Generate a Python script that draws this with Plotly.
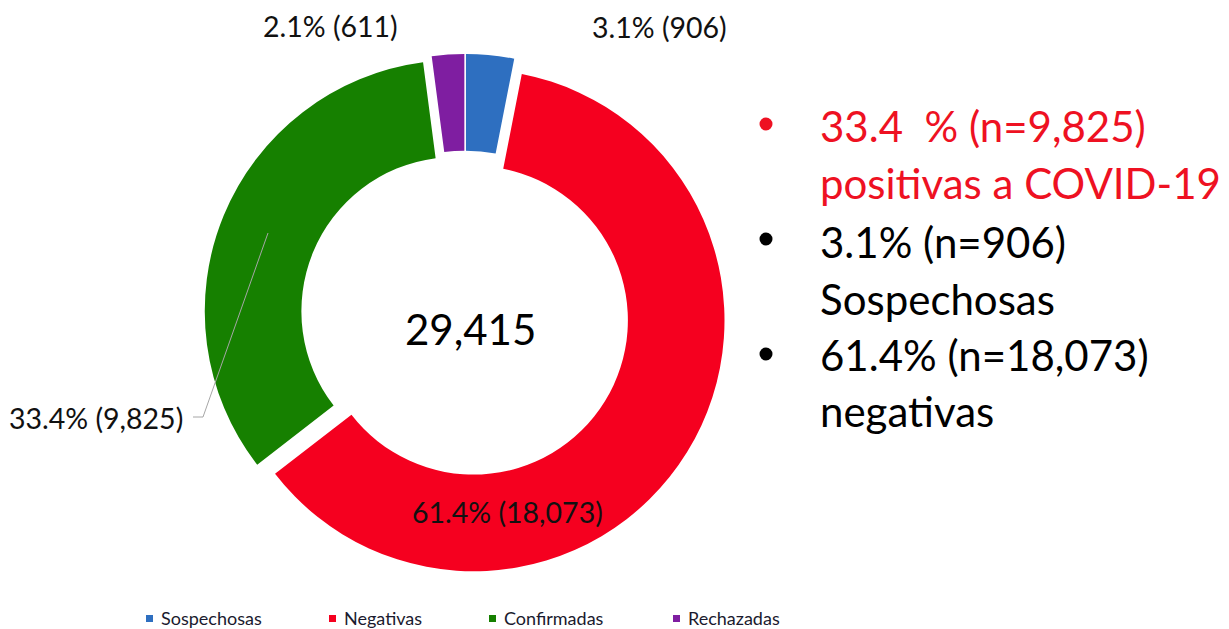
import plotly.graph_objects as go

# ---- data ----
categories = ["Sospechosas", "Negativas", "Confirmadas", "Rechazadas"]
values = [906, 18073, 9825, 611]
colors = ["#2E6FC0", "#F5001F", "#168000", "#7F1EA1"]
total_label = "29,415"
side_lines = ["33.4\u00a0 % (n=9,825)", "positivas a COVID-19",
              "3.1% (n=906)", "Sospechosas",
              "61.4% (n=18,073)", "negativas"]
side_colors = ["#EE1122", "#EE1122", "#000000", "#000000", "#000000", "#000000"]

# page body has an 8px default margin; figure fills the rest of the window
OFF = 8
W, H = 1229 - OFF, 629 - OFF
FONT = "Lato"


def px(x):
    return (x - OFF) / W


def py(y):
    return 1 - (y - OFF) / H


total = sum(values)
label_txt = [f"{v / total * 100:.1f}% ({v:,})" for v in values]

fig = go.Figure()
fig.add_trace(go.Pie(
    labels=categories, values=values, hole=0.615, sort=False,
    direction="clockwise", rotation=0, pull=0.04,
    marker=dict(colors=colors, line=dict(width=0)),
    textinfo="none", hoverinfo="label+value+percent",
    domain=dict(x=[px(204), px(726)], y=[py(576), py(54)]),
    showlegend=False,
))

ann = []
# slice labels
label_pos = [(659, 26.5), (507, 512), (96, 418), (330, 25.5)]
for t, (x, y) in zip(label_txt, label_pos):
    ann.append(dict(x=px(x), y=py(y), xref="paper", yref="paper", text=t,
                    showarrow=False, xanchor="center", yanchor="middle", borderpad=0,
                    font=dict(family=FONT, size=28.5, color="#111111")))
# center total
ann.append(dict(x=px(470), y=py(329), xref="paper", yref="paper", text=total_label,
                showarrow=False, xanchor="center", yanchor="middle",
                font=dict(family=FONT, size=42, color="#000000")))
# side text
side_y = [126, 183, 242, 299, 355, 411]
for t, c, y in zip(side_lines, side_colors, side_y):
    ann.append(dict(x=px(818), y=py(y), xref="paper", yref="paper", text=t,
                    showarrow=False, xanchor="left", yanchor="middle",
                    font=dict(family=FONT, size=42, color=c)))

shapes = []
# bullets
for y, c in [(124, "#EE1122"), (239, "#000000"), (354, "#000000")]:
    shapes.append(dict(type="circle", xref="paper", yref="paper",
                       x0=px(766 - 6.5), x1=px(766 + 6.5), y0=py(y + 6.5), y1=py(y - 6.5),
                       fillcolor=c, line=dict(width=0)))
# leader line for Confirmadas label
shapes.append(dict(type="path", xref="paper", yref="paper",
                   path=f"M {px(193)} {py(417)} L {px(203)} {py(417)} L {px(268)} {py(233)}",
                   line=dict(color="#A6A6A6", width=1)))

# manual legend
leg_marker_x = [149.5, 332.5, 492.5, 676.5]
for cat, col, mx in zip(categories, colors, leg_marker_x):
    shapes.append(dict(type="rect", xref="paper", yref="paper",
                       x0=px(mx - 3.5), x1=px(mx + 3.5), y0=py(622), y1=py(615),
                       fillcolor=col, line=dict(width=0)))
    ann.append(dict(x=px(mx + 9), y=py(618), xref="paper", yref="paper", text=cat,
                    showarrow=False, xanchor="left", yanchor="middle",
                    font=dict(family=FONT, size=18, color="#1a1a2e")))

fig.update_layout(
    width=W, height=H, margin=dict(l=0, r=0, t=0, b=0),
    paper_bgcolor="white", plot_bgcolor="white",
    annotations=ann, shapes=shapes, showlegend=False,
)

fig.write_html("out.html")
